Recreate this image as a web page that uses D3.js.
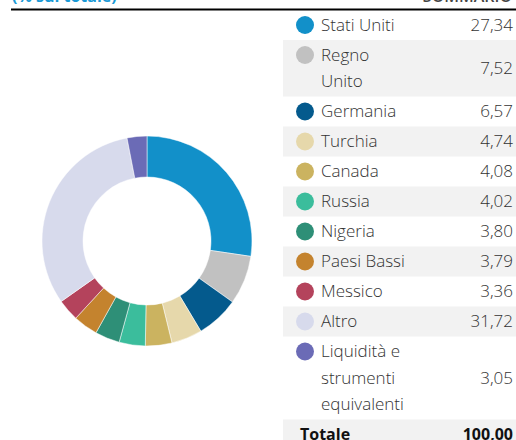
<!DOCTYPE html>
<html>
<head>
<meta charset="utf-8">
<script src="https://cdn.jsdelivr.net/npm/d3@7"></script>
<style>
  body { margin: 0; background: #fff; }
  svg { display: block; }
</style>
</head>
<body>
<div id="chart"></div>
<script>
// -- DATA --
var labels = ['Stati Uniti', 'Regno\nUnito', 'Germania', 'Turchia', 'Canada', 'Russia',
  'Nigeria', 'Paesi Bassi', 'Messico', 'Altro', 'Liquidità e\nstrumenti\nequivalenti']
var values = [27.34, 7.52, 6.57, 4.74, 4.08, 4.02, 3.80, 3.79, 3.36, 31.72, 3.05]
var colors = ['#1290c9', '#c1c1c1', '#045a8d', '#e6d8ab', '#cbb360', '#3bbd9c',
  '#2e8f77', '#c4832e', '#b4435c', '#d7daec', '#6b6bb6']
var totalLabel = 'Totale'
var totalValue = 100.00

// -- GLOBAL --
width = 516
height = 440
var svg = d3.select('#chart').append('svg')
  .attr('width', width)
  .attr('height', height)

var it = d3.formatLocale({decimal: ',', thousands: '.', grouping: [3], currency: ['', '€']})
var fmt = it.format('.2f')

// header (cut off at the top of the picture)
svg.append('text')
  .attr('x', 12)
  .attr('y', 1.5)
  .style('font-family', 'Open Sans, sans-serif')
  .style('font-weight', '700')
  .style('font-size', '16px')
  .style('fill', '#1a9ad6')
  .text('(% sul totale)')

svg.append('text')
  .attr('x', 512)
  .attr('y', 1.5)
  .style('font-family', 'Open Sans, sans-serif')
  .style('font-weight', '600')
  .style('font-size', '16px')
  .style('fill', '#444')
  .style('text-anchor', 'end')
  .text('SOMMARIO')

svg.append('line')
  .attr('x1', 11)
  .attr('x2', width)
  .attr('y1', 9.5)
  .attr('y2', 9.5)
  .style('stroke', '#000')
  .style('stroke-width', '2px')

// -- DONUT --
var cx = 147, cy = 241, rOuter = 105, rInner = 64

var pie = d3.pie().sort(null).value(d => d)
var arc = d3.arc().innerRadius(rInner).outerRadius(rOuter)

svg.append('g')
  .attr('transform', 'translate(' + cx + ',' + cy + ')')
  .selectAll('path')
  .data(pie(values))
  .enter().append('path')
    .attr('d', arc)
    .style('fill', (d, i) => colors[i])
    .style('stroke', '#fff')
    .style('stroke-width', '0.5px')

// -- TABLE --
var tableX = 283, tableR = 516, valueX = 513
var rowH = 30, lineH = 26.5
var rows = labels.map((l, i) => ({label: l.split('\n'), value: values[i], color: colors[i]}))
rows.push({label: [totalLabel], value: totalValue, total: true})

var y0 = 10
rows.forEach(function(r, i) {
  r.y = y0
  r.h = rowH + (r.label.length - 1) * lineH
  y0 += r.h
})

var gRow = svg.append('g').selectAll('g')
  .data(rows)
  .enter().append('g')
    .attr('transform', d => 'translate(0,' + d.y + ')')

gRow.filter((d, i) => i % 2 == 1)
  .append('rect')
    .attr('x', tableX)
    .attr('width', tableR - tableX)
    .attr('height', d => d.h)
    .style('fill', '#f2f2f2')

gRow.filter(d => !d.total)
  .append('circle')
    .attr('cx', 305)
    .attr('cy', 15)
    .attr('r', 9)
    .style('fill', d => d.color)

gRow.each(function(d) {
  var g = d3.select(this)
  d.label.forEach(function(line, j) {
    g.append('text')
      .attr('x', d.total ? 300 : 321)
      .attr('y', 15 + j * lineH)
      .attr('dy', '0.35em')
      .style('font-family', 'Open Sans, sans-serif')
      .style('font-weight', d.total ? '700' : '300')
      .style('font-size', d.total ? '16px' : '17px')
      .style('fill', d.total ? '#111' : '#333')
      .text(line)
  })
  g.append('text')
    .attr('x', valueX)
    .attr('y', d.h / 2)
    .attr('dy', '0.35em')
    .style('font-family', 'Open Sans, sans-serif')
    .style('font-weight', d.total ? '700' : '300')
    .style('font-size', d.total ? '16px' : '17px')
    .style('fill', d.total ? '#111' : '#333')
    .style('text-anchor', 'end')
    .text(fmt(d.value))
})
</script>
</body>
</html>
